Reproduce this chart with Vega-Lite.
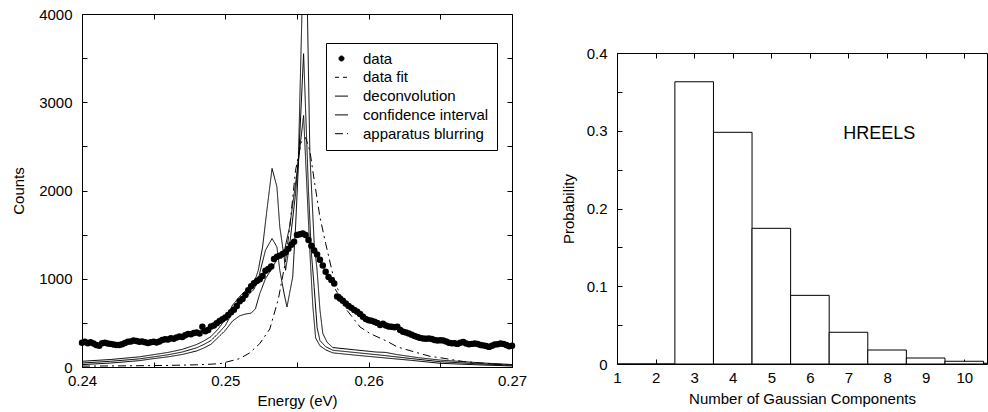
{
  "$schema": "https://vega.github.io/schema/vega-lite/v6.json",
  "padding": {"left": 11, "top": 6, "right": 0, "bottom": 0},
  "config": {
    "font": "Liberation Sans",
    "view": {"stroke": "black", "strokeWidth": 1},
    "axis": {"grid": false, "domain": false, "tickColor": "black", "tickSize": -5, "labelColor": "black", "titleColor": "black", "labelFontSize": 15, "titleFontSize": 15, "titleFontWeight": "normal", "labelFlush": false, "labelOverlap": false}
  },
  "datasets": {
    "pts": [
      {"E":0.2400,"C":275},{"E":0.2402,"C":285},{"E":0.2404,"C":270},{"E":0.2406,"C":280},{"E":0.2408,"C":265},{"E":0.2410,"C":250},{"E":0.2412,"C":240},{"E":0.2414,"C":270},{"E":0.2416,"C":275},{"E":0.2418,"C":265},
      {"E":0.2420,"C":262},{"E":0.2422,"C":255},{"E":0.2424,"C":250},{"E":0.2426,"C":248},{"E":0.2428,"C":258},{"E":0.2430,"C":272},{"E":0.2432,"C":285},{"E":0.2434,"C":290},{"E":0.2436,"C":300},{"E":0.2438,"C":295},
      {"E":0.2440,"C":285},{"E":0.2442,"C":290},{"E":0.2444,"C":280},{"E":0.2446,"C":272},{"E":0.2448,"C":280},{"E":0.2450,"C":285},{"E":0.2452,"C":278},{"E":0.2454,"C":290},{"E":0.2456,"C":305},{"E":0.2458,"C":315},
      {"E":0.2460,"C":312},{"E":0.2462,"C":325},{"E":0.2464,"C":320},{"E":0.2466,"C":335},{"E":0.2468,"C":345},{"E":0.2470,"C":340},{"E":0.2472,"C":360},{"E":0.2474,"C":375},{"E":0.2476,"C":370},{"E":0.2478,"C":385},
      {"E":0.2480,"C":390},{"E":0.2482,"C":380},{"E":0.2484,"C":455},{"E":0.2486,"C":405},{"E":0.2488,"C":420},{"E":0.2490,"C":460},{"E":0.2492,"C":470},{"E":0.2494,"C":495},{"E":0.2496,"C":520},{"E":0.2498,"C":540},
      {"E":0.2500,"C":560},{"E":0.2502,"C":590},{"E":0.2504,"C":620},{"E":0.2506,"C":650},{"E":0.2508,"C":690},{"E":0.2510,"C":745},{"E":0.2512,"C":770},{"E":0.2514,"C":815},{"E":0.2516,"C":870},{"E":0.2518,"C":915},
      {"E":0.2520,"C":950},{"E":0.2522,"C":975},{"E":0.2524,"C":995},{"E":0.2526,"C":1030},{"E":0.2528,"C":1090},{"E":0.2530,"C":1110},{"E":0.2532,"C":1140},{"E":0.2534,"C":1225},{"E":0.2536,"C":1250},{"E":0.2538,"C":1262},
      {"E":0.2540,"C":1280},{"E":0.2542,"C":1300},{"E":0.2544,"C":1340},{"E":0.2546,"C":1385},{"E":0.2548,"C":1420},{"E":0.2550,"C":1495},{"E":0.2552,"C":1505},{"E":0.2554,"C":1512},{"E":0.2556,"C":1495},{"E":0.2558,"C":1440},
      {"E":0.2560,"C":1375},{"E":0.2562,"C":1320},{"E":0.2564,"C":1275},{"E":0.2566,"C":1215},{"E":0.2568,"C":1150},{"E":0.2570,"C":1080},{"E":0.2572,"C":1020},{"E":0.2574,"C":985},{"E":0.2576,"C":945},{"E":0.2578,"C":800},
      {"E":0.2580,"C":775},{"E":0.2582,"C":750},{"E":0.2584,"C":720},{"E":0.2586,"C":690},{"E":0.2588,"C":670},{"E":0.2590,"C":645},{"E":0.2592,"C":625},{"E":0.2594,"C":600},{"E":0.2596,"C":570},{"E":0.2598,"C":545},
      {"E":0.2600,"C":530},{"E":0.2602,"C":525},{"E":0.2604,"C":512},{"E":0.2606,"C":500},{"E":0.2608,"C":475},{"E":0.2610,"C":490},{"E":0.2612,"C":470},{"E":0.2614,"C":460},{"E":0.2616,"C":455},{"E":0.2618,"C":450},
      {"E":0.2620,"C":455},{"E":0.2622,"C":420},{"E":0.2624,"C":400},{"E":0.2626,"C":390},{"E":0.2628,"C":380},{"E":0.2630,"C":365},{"E":0.2632,"C":350},{"E":0.2634,"C":340},{"E":0.2636,"C":330},{"E":0.2638,"C":322},
      {"E":0.2640,"C":320},{"E":0.2642,"C":322},{"E":0.2644,"C":318},{"E":0.2646,"C":305},{"E":0.2648,"C":300},{"E":0.2650,"C":302},{"E":0.2652,"C":300},{"E":0.2654,"C":290},{"E":0.2656,"C":275},{"E":0.2658,"C":270},
      {"E":0.2660,"C":268},{"E":0.2662,"C":262},{"E":0.2664,"C":275},{"E":0.2666,"C":283},{"E":0.2668,"C":265},{"E":0.2670,"C":258},{"E":0.2672,"C":262},{"E":0.2674,"C":265},{"E":0.2676,"C":260},{"E":0.2678,"C":250},
      {"E":0.2680,"C":245},{"E":0.2682,"C":238},{"E":0.2684,"C":228},{"E":0.2686,"C":240},{"E":0.2688,"C":255},{"E":0.2690,"C":258},{"E":0.2692,"C":265},{"E":0.2694,"C":262},{"E":0.2696,"C":250},{"E":0.2698,"C":235},
      {"E":0.2700,"C":240}
    ],
    "curves": [
      {"s":"data fit","g":"F","E":0.24,"C":272},{"s":"data fit","g":"F","E":0.241,"C":262},{"s":"data fit","g":"F","E":0.242,"C":258},{"s":"data fit","g":"F","E":0.243,"C":280},{"s":"data fit","g":"F","E":0.244,"C":288},{"s":"data fit","g":"F","E":0.245,"C":285},{"s":"data fit","g":"F","E":0.246,"C":315},{"s":"data fit","g":"F","E":0.247,"C":345},{"s":"data fit","g":"F","E":0.248,"C":392},{"s":"data fit","g":"F","E":0.249,"C":455},{"s":"data fit","g":"F","E":0.2495,"C":510},{"s":"data fit","g":"F","E":0.25,"C":565},{"s":"data fit","g":"F","E":0.2505,"C":650},{"s":"data fit","g":"F","E":0.251,"C":745},{"s":"data fit","g":"F","E":0.2515,"C":860},{"s":"data fit","g":"F","E":0.252,"C":950},{"s":"data fit","g":"F","E":0.2525,"C":1030},{"s":"data fit","g":"F","E":0.253,"C":1115},{"s":"data fit","g":"F","E":0.2535,"C":1235},{"s":"data fit","g":"F","E":0.254,"C":1285},{"s":"data fit","g":"F","E":0.2545,"C":1365},{"s":"data fit","g":"F","E":0.255,"C":1485},{"s":"data fit","g":"F","E":0.2554,"C":1505},{"s":"data fit","g":"F","E":0.2558,"C":1445},{"s":"data fit","g":"F","E":0.2562,"C":1320},{"s":"data fit","g":"F","E":0.2566,"C":1210},{"s":"data fit","g":"F","E":0.257,"C":1080},{"s":"data fit","g":"F","E":0.2575,"C":930},{"s":"data fit","g":"F","E":0.258,"C":790},{"s":"data fit","g":"F","E":0.259,"C":640},{"s":"data fit","g":"F","E":0.26,"C":530},{"s":"data fit","g":"F","E":0.261,"C":485},{"s":"data fit","g":"F","E":0.262,"C":445},{"s":"data fit","g":"F","E":0.263,"C":365},{"s":"data fit","g":"F","E":0.264,"C":320},{"s":"data fit","g":"F","E":0.265,"C":300},{"s":"data fit","g":"F","E":0.266,"C":268},{"s":"data fit","g":"F","E":0.267,"C":260},{"s":"data fit","g":"F","E":0.268,"C":245},{"s":"data fit","g":"F","E":0.269,"C":258},{"s":"data fit","g":"F","E":0.27,"C":240},

      {"s":"confidence interval","g":"U","E":0.24,"C":65},{"s":"confidence interval","g":"U","E":0.242,"C":85},{"s":"confidence interval","g":"U","E":0.244,"C":115},{"s":"confidence interval","g":"U","E":0.245,"C":140},{"s":"confidence interval","g":"U","E":0.246,"C":165},{"s":"confidence interval","g":"U","E":0.247,"C":200},{"s":"confidence interval","g":"U","E":0.248,"C":255},{"s":"confidence interval","g":"U","E":0.2485,"C":295},{"s":"confidence interval","g":"U","E":0.249,"C":345},{"s":"confidence interval","g":"U","E":0.2495,"C":430},{"s":"confidence interval","g":"U","E":0.25,"C":540},{"s":"confidence interval","g":"U","E":0.2505,"C":700},{"s":"confidence interval","g":"U","E":0.251,"C":800},{"s":"confidence interval","g":"U","E":0.2515,"C":880},{"s":"confidence interval","g":"U","E":0.252,"C":950},{"s":"confidence interval","g":"U","E":0.2523,"C":1096},{"s":"confidence interval","g":"U","E":0.2526,"C":1360},{"s":"confidence interval","g":"U","E":0.2529,"C":1777},{"s":"confidence interval","g":"U","E":0.25326,"C":2250},{"s":"confidence interval","g":"U","E":0.2536,"C":2041},{"s":"confidence interval","g":"U","E":0.2538,"C":1587},{"s":"confidence interval","g":"U","E":0.2541,"C":1247},{"s":"confidence interval","g":"U","E":0.2542,"C":1096},{"s":"confidence interval","g":"U","E":0.2545,"C":1399},{"s":"confidence interval","g":"U","E":0.2549,"C":1966},{"s":"confidence interval","g":"U","E":0.2551,"C":2380},{"s":"confidence interval","g":"U","E":0.25557,"C":5500},{"s":"confidence interval","g":"U","E":0.2559,"C":2400},{"s":"confidence interval","g":"U","E":0.2562,"C":1400},{"s":"confidence interval","g":"U","E":0.2564,"C":1100},{"s":"confidence interval","g":"U","E":0.2566,"C":650},{"s":"confidence interval","g":"U","E":0.2568,"C":380},{"s":"confidence interval","g":"U","E":0.2571,"C":280},{"s":"confidence interval","g":"U","E":0.2575,"C":220},{"s":"confidence interval","g":"U","E":0.259,"C":195},{"s":"confidence interval","g":"U","E":0.2605,"C":170},{"s":"confidence interval","g":"U","E":0.2612,"C":165},{"s":"confidence interval","g":"U","E":0.262,"C":140},{"s":"confidence interval","g":"U","E":0.2635,"C":105},{"s":"confidence interval","g":"U","E":0.265,"C":78},{"s":"confidence interval","g":"U","E":0.268,"C":45},{"s":"confidence interval","g":"U","E":0.27,"C":28},

      {"s":"deconvolution","g":"D","E":0.24,"C":45},{"s":"deconvolution","g":"D","E":0.242,"C":65},{"s":"deconvolution","g":"D","E":0.244,"C":92},{"s":"deconvolution","g":"D","E":0.245,"C":115},{"s":"deconvolution","g":"D","E":0.246,"C":138},{"s":"deconvolution","g":"D","E":0.247,"C":170},{"s":"deconvolution","g":"D","E":0.248,"C":218},{"s":"deconvolution","g":"D","E":0.2485,"C":255},{"s":"deconvolution","g":"D","E":0.249,"C":300},{"s":"deconvolution","g":"D","E":0.2495,"C":380},{"s":"deconvolution","g":"D","E":0.25,"C":470},{"s":"deconvolution","g":"D","E":0.2505,"C":620},{"s":"deconvolution","g":"D","E":0.251,"C":720},{"s":"deconvolution","g":"D","E":0.2515,"C":800},{"s":"deconvolution","g":"D","E":0.252,"C":880},{"s":"deconvolution","g":"D","E":0.2523,"C":1000},{"s":"deconvolution","g":"D","E":0.2528,"C":1323},{"s":"deconvolution","g":"D","E":0.25326,"C":1456},{"s":"deconvolution","g":"D","E":0.2536,"C":1360},{"s":"deconvolution","g":"D","E":0.2538,"C":1096},{"s":"deconvolution","g":"D","E":0.2541,"C":832},{"s":"deconvolution","g":"D","E":0.2543,"C":680},{"s":"deconvolution","g":"D","E":0.2547,"C":1020},{"s":"deconvolution","g":"D","E":0.2549,"C":1587},{"s":"deconvolution","g":"D","E":0.2551,"C":2300},{"s":"deconvolution","g":"D","E":0.25546,"C":3550},{"s":"deconvolution","g":"D","E":0.2558,"C":2000},{"s":"deconvolution","g":"D","E":0.256,"C":1300},{"s":"deconvolution","g":"D","E":0.2562,"C":900},{"s":"deconvolution","g":"D","E":0.2564,"C":450},{"s":"deconvolution","g":"D","E":0.2566,"C":300},{"s":"deconvolution","g":"D","E":0.257,"C":230},{"s":"deconvolution","g":"D","E":0.2575,"C":190},{"s":"deconvolution","g":"D","E":0.259,"C":165},{"s":"deconvolution","g":"D","E":0.261,"C":132},{"s":"deconvolution","g":"D","E":0.263,"C":95},{"s":"deconvolution","g":"D","E":0.265,"C":60},{"s":"deconvolution","g":"D","E":0.268,"C":33},{"s":"deconvolution","g":"D","E":0.27,"C":20},

      {"s":"confidence interval","g":"L","E":0.24,"C":27},{"s":"confidence interval","g":"L","E":0.242,"C":45},{"s":"confidence interval","g":"L","E":0.244,"C":72},{"s":"confidence interval","g":"L","E":0.245,"C":95},{"s":"confidence interval","g":"L","E":0.246,"C":115},{"s":"confidence interval","g":"L","E":0.247,"C":142},{"s":"confidence interval","g":"L","E":0.248,"C":182},{"s":"confidence interval","g":"L","E":0.2485,"C":215},{"s":"confidence interval","g":"L","E":0.249,"C":258},{"s":"confidence interval","g":"L","E":0.2495,"C":335},{"s":"confidence interval","g":"L","E":0.25,"C":415},{"s":"confidence interval","g":"L","E":0.2505,"C":520},{"s":"confidence interval","g":"L","E":0.251,"C":580},{"s":"confidence interval","g":"L","E":0.2514,"C":600},{"s":"confidence interval","g":"L","E":0.2518,"C":610},{"s":"confidence interval","g":"L","E":0.2521,"C":660},{"s":"confidence interval","g":"L","E":0.2524,"C":830},{"s":"confidence interval","g":"L","E":0.2528,"C":1000},{"s":"confidence interval","g":"L","E":0.2533,"C":1130},{"s":"confidence interval","g":"L","E":0.2537,"C":1250},{"s":"confidence interval","g":"L","E":0.2541,"C":1300},{"s":"confidence interval","g":"L","E":0.2545,"C":1600},{"s":"confidence interval","g":"L","E":0.255,"C":2200},{"s":"confidence interval","g":"L","E":0.25546,"C":2850},{"s":"confidence interval","g":"L","E":0.2557,"C":2000},{"s":"confidence interval","g":"L","E":0.2559,"C":1300},{"s":"confidence interval","g":"L","E":0.2561,"C":700},{"s":"confidence interval","g":"L","E":0.2563,"C":330},{"s":"confidence interval","g":"L","E":0.2566,"C":240},{"s":"confidence interval","g":"L","E":0.257,"C":195},{"s":"confidence interval","g":"L","E":0.2575,"C":160},{"s":"confidence interval","g":"L","E":0.259,"C":135},{"s":"confidence interval","g":"L","E":0.261,"C":105},{"s":"confidence interval","g":"L","E":0.263,"C":75},{"s":"confidence interval","g":"L","E":0.265,"C":42},{"s":"confidence interval","g":"L","E":0.268,"C":22},{"s":"confidence interval","g":"L","E":0.27,"C":12},

      {"s":"apparatus blurring","g":"A","E":0.24,"C":10},{"s":"apparatus blurring","g":"A","E":0.243,"C":13},{"s":"apparatus blurring","g":"A","E":0.246,"C":18},{"s":"apparatus blurring","g":"A","E":0.248,"C":25},{"s":"apparatus blurring","g":"A","E":0.249,"C":32},{"s":"apparatus blurring","g":"A","E":0.2497,"C":40},{"s":"apparatus blurring","g":"A","E":0.2501,"C":57},{"s":"apparatus blurring","g":"A","E":0.251,"C":95},{"s":"apparatus blurring","g":"A","E":0.2517,"C":160},{"s":"apparatus blurring","g":"A","E":0.2524,"C":265},{"s":"apparatus blurring","g":"A","E":0.2531,"C":430},{"s":"apparatus blurring","g":"A","E":0.2537,"C":770},{"s":"apparatus blurring","g":"A","E":0.2542,"C":1200},{"s":"apparatus blurring","g":"A","E":0.2545,"C":1600},{"s":"apparatus blurring","g":"A","E":0.2549,"C":2230},{"s":"apparatus blurring","g":"A","E":0.2553,"C":2550},{"s":"apparatus blurring","g":"A","E":0.2556,"C":2600},{"s":"apparatus blurring","g":"A","E":0.2559,"C":2450},{"s":"apparatus blurring","g":"A","E":0.2562,"C":2117},{"s":"apparatus blurring","g":"A","E":0.2566,"C":1700},{"s":"apparatus blurring","g":"A","E":0.257,"C":1400},{"s":"apparatus blurring","g":"A","E":0.2575,"C":1050},{"s":"apparatus blurring","g":"A","E":0.2578,"C":900},{"s":"apparatus blurring","g":"A","E":0.2585,"C":640},{"s":"apparatus blurring","g":"A","E":0.2594,"C":453},{"s":"apparatus blurring","g":"A","E":0.2601,"C":379},{"s":"apparatus blurring","g":"A","E":0.2613,"C":290},{"s":"apparatus blurring","g":"A","E":0.262,"C":227},{"s":"apparatus blurring","g":"A","E":0.2631,"C":175},{"s":"apparatus blurring","g":"A","E":0.2643,"C":120},{"s":"apparatus blurring","g":"A","E":0.265,"C":105},{"s":"apparatus blurring","g":"A","E":0.2666,"C":62},{"s":"apparatus blurring","g":"A","E":0.268,"C":42},{"s":"apparatus blurring","g":"A","E":0.27,"C":22}
    ],
    "bars": [
      {"n":1,"lo":0.5,"hi":1.5,"p":0},{"n":2,"lo":1.5,"hi":2.5,"p":0},{"n":3,"lo":2.5,"hi":3.5,"p":0.363},{"n":4,"lo":3.5,"hi":4.5,"p":0.298},{"n":5,"lo":4.5,"hi":5.5,"p":0.1745},{"n":6,"lo":5.5,"hi":6.5,"p":0.0883},{"n":7,"lo":6.5,"hi":7.5,"p":0.0408},{"n":8,"lo":7.5,"hi":8.5,"p":0.018},{"n":9,"lo":8.5,"hi":9.5,"p":0.0077},{"n":10,"lo":9.5,"hi":10.5,"p":0.0035},{"n":11,"lo":10.5,"hi":11.5,"p":0.001}
    ],
    "lbl": [{"x":7.8,"y":0.296,"t":"HREELS"}],
    "blank": [{"k":1}]
  },
  "spacing": 32,
  "hconcat": [
    {
      "width": 430,
      "height": 353,
      "layer": [
        {
          "data": {"name": "curves"},
          "mark": {"type": "line", "color": "black", "strokeWidth": 1, "clip": true},
          "encoding": {
            "x": {"field": "E", "type": "quantitative", "scale": {"domain": [0.24, 0.27], "nice": false, "zero": false},
              "axis": {"title": "Energy (eV)", "values": [0.24,0.245,0.25,0.255,0.26,0.265,0.27], "labelExpr": "round(datum.value*1000) % 10 === 0 ? format(datum.value, '.2f') : ''", "labelPadding": 11, "titlePadding": 5}},
            "y": {"field": "C", "type": "quantitative", "scale": {"domain": [0, 4000], "nice": false},
              "axis": {"title": "Counts", "values": [0,500,1000,1500,2000,2500,3000,3500,4000], "labelExpr": "datum.value % 1000 === 0 ? format(datum.value, 'd') : ''", "labelPadding": 15, "titlePadding": 12}},
            "strokeDash": {"field": "s", "type": "nominal",
              "scale": {"domain": ["data", "data fit", "deconvolution", "confidence interval", "apparatus blurring"], "range": [[1,0],[4,4],[1,0],[1,0],[8,4,2,4]]},
              "legend": {
                "title": null, "orient": "none", "legendX": 244, "legendY": 29,
                "strokeColor": "black", "fillColor": "white", "padding": 8, "cornerRadius": 0,
                "labelFontSize": 15, "labelColor": "black", "labelOffset": 14,
                "symbolType": "stroke", "symbolSize": 170, "symbolStrokeWidth": 1, "symbolStrokeColor": "black",
                "rowPadding": 2.8,
                "encode": {"symbols": {"update": {
                  "shape": {"signal": "datum.value === 'data' ? 'circle' : 'stroke'"},
                  "fill": {"signal": "datum.value === 'data' ? 'black' : 'transparent'"},
                  "size": {"signal": "datum.value === 'data' ? 25 : 170"},
                  "stroke": {"value": "black"},
                  "strokeWidth": {"value": 1},
                  "strokeOpacity": {"value": 1},
                  "opacity": {"value": 1}
                }}}
              }},
            "detail": {"field": "g", "type": "nominal"}
          }
        },
        {
          "data": {"name": "pts"},
          "mark": {"type": "circle", "color": "black", "size": 42, "opacity": 1},
          "encoding": {
            "x": {"field": "E", "type": "quantitative", "axis": null},
            "y": {"field": "C", "type": "quantitative", "axis": null}
          }
        },
        {
          "data": {"name": "pts"},
          "mark": {"type": "point", "opacity": 0},
          "encoding": {
            "x": {"field": "E", "type": "quantitative", "axis": {"orient": "top", "labels": false, "title": null, "values": [0.24,0.245,0.25,0.255,0.26,0.265,0.27]}},
            "y": {"field": "C", "type": "quantitative", "axis": {"orient": "right", "labels": false, "title": null, "values": [0,500,1000,1500,2000,2500,3000,3500,4000]}}
          }
        }
      ],
      "resolve": {"axis": {"x": "independent", "y": "independent"}}
    },
    {
      "spacing": 0,
      "vconcat": [
        {
          "width": 370,
          "height": 30.5,
          "view": {"stroke": null},
          "data": {"name": "blank"},
          "mark": {"type": "point", "opacity": 0},
          "encoding": {}
        },
        {
          "width": 370,
          "height": 311,
          "layer": [
            {
              "data": {"name": "bars"},
              "mark": {"type": "rect", "fill": "white", "stroke": "black", "strokeWidth": 1, "clip": true},
              "encoding": {
                "x": {"field": "lo", "type": "quantitative", "scale": {"domain": [1, 10.59], "nice": false, "zero": false},
                  "axis": {"title": "Number of Gaussian Components", "values": [1,2,3,4,5,6,7,8,9,10], "format": "d", "labelPadding": 11, "titlePadding": 6}},
                "x2": {"field": "hi"},
                "y": {"field": "p", "type": "quantitative", "scale": {"domain": [0, 0.4], "nice": false},
                  "axis": {"title": "Probability", "values": [0,0.05,0.1,0.15,0.2,0.25,0.3,0.35,0.4], "labelExpr": "round(datum.value*100) % 10 === 0 ? (datum.value === 0 ? '0' : format(datum.value, '.1f')) : ''", "labelPadding": 15, "titlePadding": 10}},
                "y2": {"datum": 0}
              }
            },
            {
              "data": {"name": "lbl"},
              "mark": {"type": "text", "fontSize": 18, "color": "black"},
              "encoding": {
                "x": {"field": "x", "type": "quantitative", "axis": null},
                "y": {"field": "y", "type": "quantitative", "axis": null},
                "text": {"field": "t"}
              }
            },
            {
              "data": {"name": "bars"},
              "mark": {"type": "point", "opacity": 0},
              "encoding": {
                "x": {"field": "n", "type": "quantitative", "axis": {"orient": "top", "labels": false, "title": null, "values": [1,2,3,4,5,6,7,8,9,10]}}
              }
            }
          ],
          "resolve": {"axis": {"x": "independent", "y": "independent"}}
        }
      ]
    }
  ]
}
